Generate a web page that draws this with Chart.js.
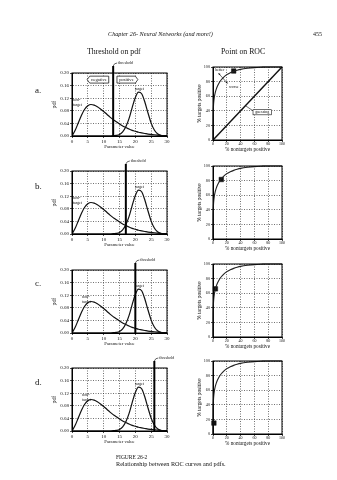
<!DOCTYPE html>
<html>
<head>
<meta charset="utf-8">
<script src="https://cdn.jsdelivr.net/npm/chart.js@4.4.1/dist/chart.umd.min.js"></script>
<style>
body { margin: 0; background: #fff; width: 337px; height: 480px; position: relative; overflow: hidden; font-family: "Liberation Serif", serif; color: #111; }
.t { position: absolute; white-space: nowrap; line-height: 1; will-change: transform; }
canvas { position: absolute; }
</style>
</head>
<body>
<div class="t" style="left:108px;top:30.5px;font-size:6.2px;font-style:italic">Chapter 26- Neural Networks (and more!)</div>
<div class="t" style="left:313px;top:31px;font-size:6px">455</div>
<div class="t" style="left:87px;top:47.5px;font-size:7.8px">Threshold on pdf</div>
<div class="t" style="left:221px;top:47.5px;font-size:7.8px">Point on ROC</div>
<div class="t" style="left:35px;top:86px;font-size:9px">a.</div>
<div class="t" style="left:35px;top:182px;font-size:9px">b.</div>
<div class="t" style="left:35px;top:279px;font-size:9px">c.</div>
<div class="t" style="left:35px;top:378px;font-size:9px">d.</div>
<div class="t" style="left:116px;top:454.6px;font-size:5.5px">FIGURE 26-2</div>
<div class="t" style="left:116px;top:460.5px;font-size:6.2px">Relationship between ROC curves and pdfs.</div>
<script>
// pdf panels
const paramValues = [0, 1, 2, 3, 4, 5, 6, 7, 8, 9, 10, 11, 12, 13, 14, 15, 16, 17, 18, 19, 20, 21, 22, 23, 24, 25, 26, 27, 28, 29, 30];
const nonTargetPdf = [0, 0.018, 0.042, 0.066, 0.085, 0.096, 0.100, 0.098, 0.093, 0.086, 0.078, 0.069, 0.060, 0.052, 0.045, 0.038,
  0.032, 0.027, 0.022, 0.018, 0.015, 0.012, 0.010, 0.008, 0.006, 0.005, 0.004, 0.003, 0.002, 0.001, 0.001];
const targetPdf = [0, 0, 0, 0, 0, 0, 0, 0, 0, 0, 0, 0, 0, 0.001, 0.002, 0.005, 0.013, 0.029, 0.055, 0.090, 0.122, 0.139,
  0.134, 0.108, 0.073, 0.041, 0.019, 0.007, 0.002, 0.001, 0];
const thresholds = [13, 17, 20, 26];
const pdfTicksX = [0, 5, 10, 15, 20, 25, 30];
const pdfTicksY = [0, 0.04, 0.08, 0.12, 0.16, 0.20];

// ROC panels
const rocFalsePos = [0, 0.2, 0.6, 1.2, 2, 3, 4.5, 6.5, 9, 12, 16, 20, 25, 30, 35, 40, 50, 60, 70, 80, 100];
const rocTruePos = [0, 30, 45, 53, 59, 64, 69, 74, 78.5, 82.5, 86.5, 89.5, 92, 94, 95.5, 96.7, 98.2, 99.2, 99.7, 100, 100];
const rocPointFalsePos = [30, 12, 3.5, 1.3];
const rocPointTruePos = [94.5, 81.5, 66, 15];
const guessX = [0, 100];
const guessY = [0, 100];
const rocTicks = [0, 20, 40, 60, 80, 100];

// layout
const pdfTops = [73, 171, 270, 368];
const rocTops = [67, 166, 264, 361];
const nonLabelX = [0.3, 0.3, 3.2, 3.2];

Chart.defaults.font.family = '"Liberation Serif", serif';
Chart.defaults.color = '#111';

function makeCanvas(left, top, w, h) {
  const c = document.createElement('canvas');
  c.width = w; c.height = h;
  c.style.left = left + 'px'; c.style.top = top + 'px';
  c.style.width = w + 'px'; c.style.height = h + 'px';
  document.body.appendChild(c);
  return c;
}

function axis(min, max, ticks, fontSize, fmt, title, titleSize, tickPad, titlePad, extra) {
  return Object.assign({
    type: 'linear', min: min, max: max,
    afterBuildTicks: s => { s.ticks = ticks.map(v => ({ value: v })); },
    grid: { color: '#333', lineWidth: 0.7, tickLength: 2, tickColor: '#000', tickWidth: 0.7 },
    border: { display: true, color: '#000', width: 1, dash: [1, 1.5] },
    ticks: { font: { size: fontSize }, padding: tickPad, autoSkip: false, maxRotation: 0, callback: fmt },
    title: { display: true, text: title, font: { size: titleSize }, padding: { top: titlePad, bottom: 0 } }
  }, extra);
}

function frame(ctx, a) {
  ctx.strokeStyle = '#000';
  ctx.lineWidth = 1;
  ctx.strokeRect(a.left, a.top, a.right - a.left, a.bottom - a.top);
}

function arrowBox(ctx, l, r, t, b, dir, text) {
  const m = (t + b) / 2, d = 2.5;
  ctx.beginPath();
  if (dir < 0) {
    ctx.moveTo(l, m); ctx.lineTo(l + d, t); ctx.lineTo(r, t); ctx.lineTo(r, b); ctx.lineTo(l + d, b);
  } else {
    ctx.moveTo(l, t); ctx.lineTo(r - d, t); ctx.lineTo(r, m); ctx.lineTo(r - d, b); ctx.lineTo(l, b);
  }
  ctx.closePath();
  ctx.fillStyle = '#fff'; ctx.fill();
  ctx.lineWidth = 0.7; ctx.stroke();
  ctx.fillStyle = '#111';
  ctx.textAlign = 'center';
  ctx.fillText(text, (l + r) / 2 + (dir < 0 ? 1 : -1), m);
}

function pdfMarks(i) {
  return {
    id: 'pdfMarks',
    afterDraw(chart) {
      const { ctx, chartArea: a, scales: { x, y } } = chart;
      ctx.save();
      frame(ctx, a);
      const tx = x.getPixelForValue(thresholds[i]);
      ctx.lineWidth = 2;
      ctx.beginPath(); ctx.moveTo(tx, a.bottom + 1); ctx.lineTo(tx, a.top - 7); ctx.stroke();
      ctx.lineWidth = 0.6;
      ctx.beginPath(); ctx.moveTo(tx, a.top - 7); ctx.quadraticCurveTo(tx + 1, a.top - 10, tx + 4, a.top - 10); ctx.stroke();
      ctx.fillStyle = '#111';
      ctx.font = '4px "Liberation Serif"';
      ctx.textBaseline = 'middle';
      ctx.textAlign = 'left';
      ctx.fillText('threshold', tx + 5, a.top - 10);
      ctx.fillText('non-', x.getPixelForValue(nonLabelX[i]), y.getPixelForValue(0.114));
      ctx.fillText('target', x.getPixelForValue(nonLabelX[i]), y.getPixelForValue(0.099));
      ctx.textAlign = 'center';
      ctx.fillText('target', x.getPixelForValue(21.3), y.getPixelForValue(0.149));
      if (i === 0) {
        ctx.font = '4.6px "Liberation Serif"';
        arrowBox(ctx, x.getPixelForValue(4.8), x.getPixelForValue(11.6), y.getPixelForValue(0.19), y.getPixelForValue(0.168), -1, 'negative');
        arrowBox(ctx, x.getPixelForValue(14.2), x.getPixelForValue(20.8), y.getPixelForValue(0.19), y.getPixelForValue(0.168), 1, 'positive');
      }
      ctx.restore();
    }
  };
}

function arrowHead(ctx, fx, fy, tx, ty) {
  const ang = Math.atan2(ty - fy, tx - fx), s = 2.2;
  ctx.beginPath();
  ctx.moveTo(tx, ty);
  ctx.lineTo(tx - s * Math.cos(ang - 0.5), ty - s * Math.sin(ang - 0.5));
  ctx.lineTo(tx - s * Math.cos(ang + 0.5), ty - s * Math.sin(ang + 0.5));
  ctx.closePath();
  ctx.fill();
}

function rocMarks(i) {
  return {
    id: 'rocMarks',
    afterDraw(chart) {
      const { ctx, chartArea: a, scales: { x, y } } = chart;
      ctx.save();
      frame(ctx, a);
      if (i === 0) {
        const px = v => x.getPixelForValue(v), py = v => y.getPixelForValue(v);
        ctx.fillStyle = '#111';
        ctx.strokeStyle = '#111';
        ctx.font = '4px "Liberation Serif"';
        ctx.textBaseline = 'middle';
        ctx.textAlign = 'center';
        ctx.fillText('better', px(10), py(96));
        ctx.fillText('worse', px(30), py(73));
        ctx.lineWidth = 0.6;
        ctx.beginPath(); ctx.moveTo(px(8), py(91.5)); ctx.lineTo(px(21), py(77.5)); ctx.stroke();
        arrowHead(ctx, px(21), py(77.5), px(8), py(91.5));
        arrowHead(ctx, px(8), py(91.5), px(21), py(77.5));
        const l = px(58), r = px(85), t = py(41.5), b = py(34.5);
        ctx.fillStyle = '#fff';
        ctx.fillRect(l, t, r - l, b - t);
        ctx.strokeRect(l, t, r - l, b - t);
        ctx.fillStyle = '#111';
        ctx.fillText('guessing', (l + r) / 2, (t + b) / 2);
        ctx.beginPath(); ctx.moveTo(l, py(40)); ctx.lineTo(px(47), py(47)); ctx.stroke();
      }
      ctx.restore();
    }
  };
}

const fmt2 = v => v.toFixed(2);
const fmt0 = v => String(v);

pdfTops.forEach((top, i) => {
  const cv = makeCanvas(46, top - 16, 129, 93);
  new Chart(cv, {
    type: 'scatter',
    data: {
      datasets: [
        { data: paramValues.map((v, k) => ({ x: v, y: nonTargetPdf[k] })), showLine: true, borderColor: '#111',
          borderWidth: 1.2, pointRadius: 0, cubicInterpolationMode: 'monotone' },
        { data: paramValues.map((v, k) => ({ x: v, y: targetPdf[k] })), showLine: true, borderColor: '#111',
          borderWidth: 1.2, pointRadius: 0, cubicInterpolationMode: 'monotone' }
      ]
    },
    options: {
      responsive: false, animation: false, devicePixelRatio: 1,
      layout: { padding: { top: 16, right: 8, left: 0, bottom: 0 } },
      plugins: { legend: { display: false }, tooltip: { enabled: false } },
      scales: {
        x: axis(0, 30, pdfTicksX, 5, fmt0, 'Parameter value', 4.7, 1, 0, { afterFit: s => { s.height = 14; } }),
        y: axis(0, 0.2, pdfTicksY, 5, fmt2, 'pdf', 5.5, 1, 5.7, { afterFit: s => { s.width = 26; } })
      }
    },
    plugins: [pdfMarks(i)]
  });
});

rocTops.forEach((top, i) => {
  const cv = makeCanvas(190, top - 6, 100, 92);
  const sets = [];
  if (i === 0) {
    sets.push({ data: guessX.map((v, k) => ({ x: v, y: guessY[k] })), showLine: true, borderColor: '#111',
      borderWidth: 1.5, pointRadius: 0 });
  }
  sets.push({ data: rocFalsePos.map((v, k) => ({ x: v, y: rocTruePos[k] })), showLine: true, borderColor: '#222',
    borderWidth: 1.1, pointRadius: 0, cubicInterpolationMode: 'monotone', clip: 3 });
  sets.push({ data: [{ x: rocPointFalsePos[i], y: rocPointTruePos[i] }], pointStyle: 'rect', pointRadius: 3.2,
    backgroundColor: '#111', borderColor: '#111', borderWidth: 0.5, clip: false });
  new Chart(cv, {
    type: 'scatter',
    data: { datasets: sets },
    options: {
      responsive: false, animation: false, devicePixelRatio: 1,
      layout: { padding: { top: 6, right: 8, left: 0, bottom: 0 } },
      plugins: { legend: { display: false }, tooltip: { enabled: false } },
      scales: {
        x: axis(0, 100, rocTicks, 4, fmt0, '% nontargets positive', 5.2, 0, 0, { afterFit: s => { s.height = 13; } }),
        y: axis(0, 100, rocTicks, 4.2, fmt0, '% targets positive', 5.4, 1, 6.7, { afterFit: s => { s.width = 23; } })
      }
    },
    plugins: [rocMarks(i)]
  });
});
</script>
</body>
</html>
